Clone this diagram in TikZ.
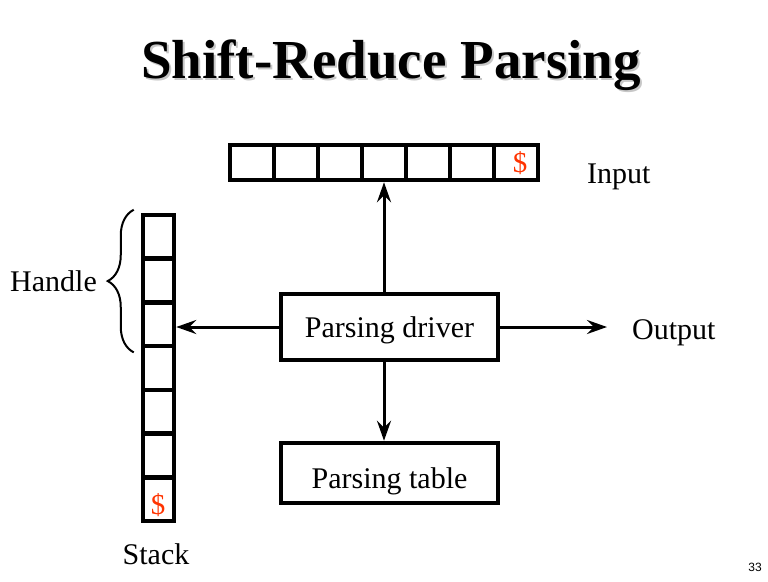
\documentclass[tikz,border=0pt]{standalone}
\usepackage{fontspec}
\setmainfont{Liberation Serif}
\setsansfont{Liberation Sans}
\usetikzlibrary{arrows.meta,positioning,decorations.pathreplacing}
\definecolor{dollarred}{RGB}{255,51,0}
\begin{document}
\begin{tikzpicture}[
				x=1pt, y=-1pt,
				every node/.style={inner sep=0, font=\fontsize{30}{36}\selectfont},
				cell/.style={draw, line width=4.5pt, minimum width=44pt, minimum height=35pt},
				stackcell/.style={draw, line width=4.5pt, minimum width=31pt, minimum height=43.7pt},
				box/.style={draw, line width=4.5pt, minimum width=217pt, text depth=0pt},
				dollar/.style={text=dollarred, font=\fontsize{29}{33}\selectfont},
				arr/.style={line width=3pt, -{Stealth[length=20pt, width=14pt, inset=7pt]}},
			]
			\useasboundingbox (0,0) rectangle (768,581);
			\node[text=black!22, anchor=base, font=\fontsize{55}{60}\selectfont\bfseries] (titleshadow) at (393,80) {Shift-Reduce Parsing};
			\node[anchor=base, font=\fontsize{55}{60}\selectfont\bfseries] (title) at (391,78) {Shift-Reduce Parsing};
			\foreach \i in {1,...,7}
				\node[cell] (in\i) at ({230+44*(\i-0.5)},162.5) {};
			\foreach \i in {1,...,7}
				\node[stackcell] (st\i) at (158.5,{215+43.71*(\i-0.5)}) {};
			\node[dollar] (indollar) at (520,163) {\$};
			\node[dollar] (stdollar) at (158,505) {\$};
			\node[anchor=base west] (input) at (587,183) {Input};
			\node[anchor=base] (stack) at (156,564) {Stack};
			\node[box, minimum height=66pt, text height=20pt] (driver) at (389.5,327) {Parsing driver};
			\node[box, minimum height=60pt, text height=30pt] (table) at (389.5,473) {Parsing table};
			\node[anchor=base west] (output) at (632,339) {Output};
			\node[anchor=base west] (handle) at (10,291) {Handle};
			\node[font=\fontsize{12}{14}\selectfont\sffamily] (pagenum) at (755,567) {33};
			\draw[arr] (driver.north -| in4) -- (in4.south);
			\draw[arr] (driver.south -| in4) -- (table.north -| in4);
			\draw[arr] (driver.west) -- (driver.west -| st3.east);
			\draw[arr, shorten >=25pt] (driver.east) -- (output.west |- driver.east);
			\draw[line width=2pt, decorate, decoration={brace, amplitude=26pt}]
				([shift={(-7,4)}]st3.south west) -- ([shift={(-7,-3)}]st1.north west);
			\end{tikzpicture}
\end{document}
